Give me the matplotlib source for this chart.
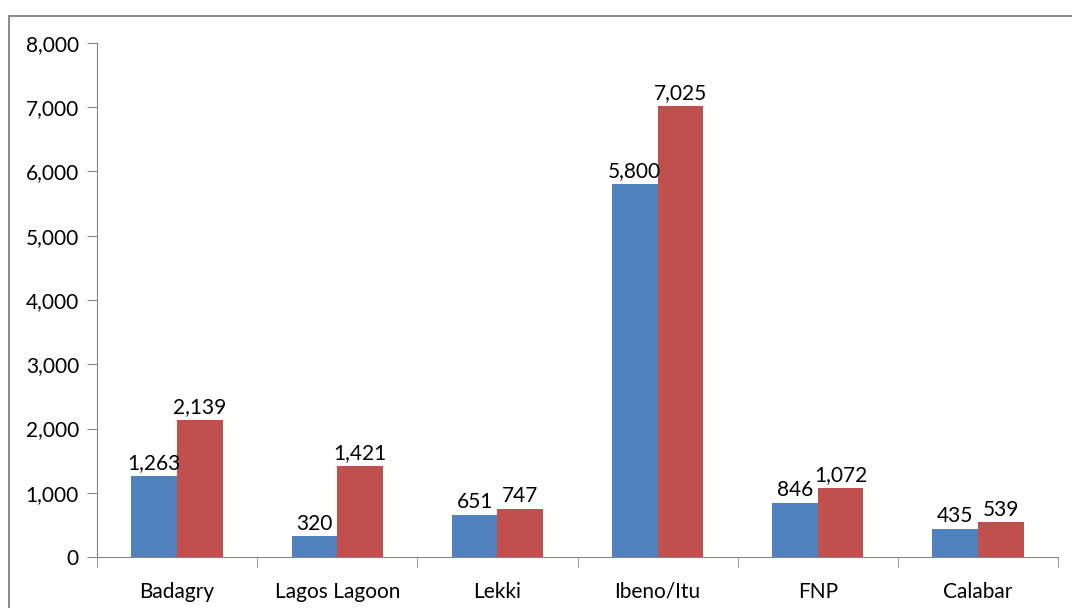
import numpy as np
import matplotlib.pyplot as plt
from matplotlib.lines import Line2D

sitios = ["Badagry", "Lagos Lagoon", "Lekki", "Ibeno/Itu", "FNP", "Calabar"]
serie_azul = [1263, 320, 651, 5800, 846, 435]
serie_roja = [2139, 1421, 747, 7025, 1072, 539]

plt.rcParams['font.family'] = ['Lato', 'DejaVu Sans']

fig = plt.figure(figsize=(10.72, 6.08), dpi=100)
ax = fig.add_axes([97/1072, 1-557/608, (1058-97)/1072, (557-43)/608])

x = np.arange(len(sitios))
ancho = 0.285
b1 = ax.bar(x - ancho/2, serie_azul, ancho, color="#4F81BD")
b2 = ax.bar(x + ancho/2, serie_roja, ancho, color="#C0504D")

for barras in (b1, b2):
    for b in barras:
        ax.annotate(f"{int(b.get_height()):,}", (b.get_x() + b.get_width()/2, b.get_height()),
                    xytext=(0, 2), textcoords="offset points", ha="center", va="bottom", fontsize=15)

ax.set_xlim(-0.5, len(sitios) - 0.5)
ax.set_ylim(0, 8000)
ax.set_yticks(range(0, 8001, 1000))
ax.set_yticklabels([f"{v:,}" for v in range(0, 8001, 1000)])
ax.set_xticks(x)
ax.set_xticklabels(sitios)
ax.set_xticks(np.arange(-0.5, len(sitios)), minor=True)
ax.tick_params(axis="x", which="major", length=0, pad=18, labelsize=15)
ax.tick_params(axis="x", which="minor", length=7, color="#868686", direction="out")
ax.tick_params(axis="y", length=7, color="#868686", labelsize=15, pad=6)

for s in ["top", "right"]:
    ax.spines[s].set_visible(False)
for s in ["left", "bottom"]:
    ax.spines[s].set_color("#868686")

# marco del grafico
fig.add_artist(Line2D([9/1072, 1], [1-16/608, 1-16/608], color="#8c8c8c", lw=1.5, transform=fig.transFigure))
fig.add_artist(Line2D([9/1072, 9/1072], [0, 1-16/608], color="#8c8c8c", lw=1.5, transform=fig.transFigure))

fig.savefig("out.png", dpi=100)
